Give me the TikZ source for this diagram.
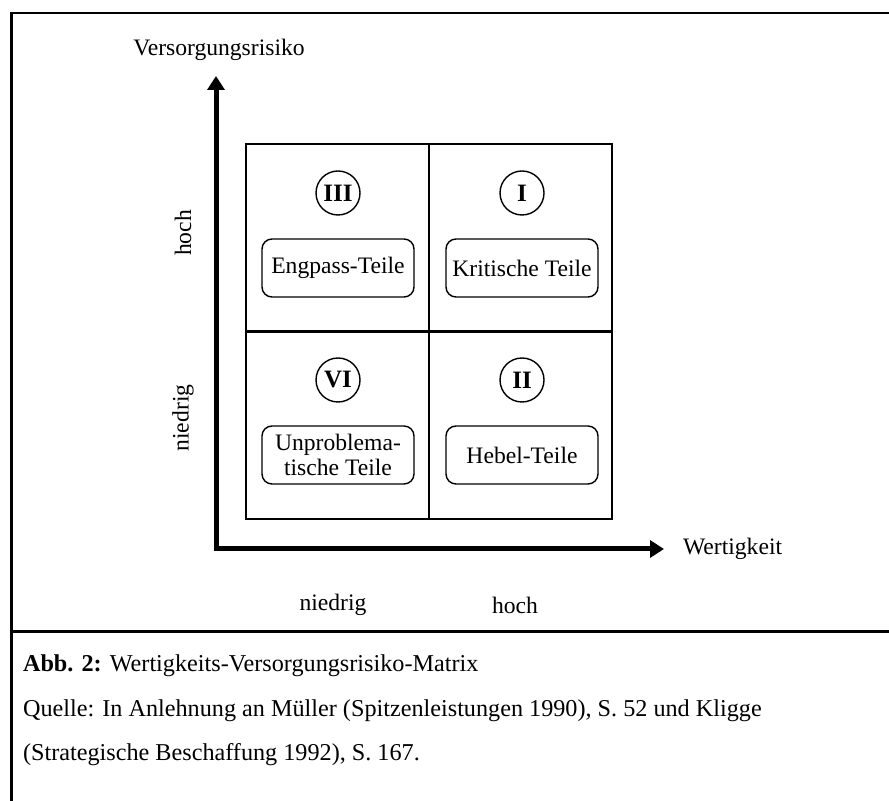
\documentclass[tikz,border=0pt]{standalone}
\usepackage{fontspec}
\setmainfont{Liberation Serif}
\usetikzlibrary{arrows.meta}

\begin{document}
\begin{tikzpicture}[
    x=0.5pt, y=-0.5pt,
    every node/.style={font=\fontsize{11.8pt}{12.5pt}\selectfont},
    caption/.style={anchor=west, font=\fontsize{12.1pt}{14pt}\selectfont},
    frame/.style={line width=1.3pt},
    quadrant/.style={draw, line width=1pt, minimum width=91.5pt, minimum height=94pt, inner sep=0pt},
    roman/.style={circle, draw, line width=0.7pt, minimum size=22pt, inner sep=0pt,
        font=\fontsize{12.5pt}{12.5pt}\selectfont\bfseries},
    part/.style={draw, rounded corners=5pt, line width=0.7pt, minimum width=76pt,
        minimum height=29pt, align=center, inner sep=1pt},
    axis/.style={line width=2.5pt, line cap=rect, -{Triangle[length=7pt,width=8.5pt]}}
]
    \useasboundingbox (0,0) rectangle (889,801);

    % Frame
    \draw[frame] (889,13) -- (11.5,13) -- (11.5,801);
    \draw[frame] (11.5,631.5) -- (889,631.5);

    % Quadrants
    \node[quadrant] (q3) at (337.5,238) {};
    \node[quadrant] (q1) at (520,238) {};
    \node[quadrant] (q6) at (337.5,425.5) {};
    \node[quadrant] (q2) at (520,425.5) {};

    % Nodes
    \node[roman] (r3) at (338,193) {III};
    \node[roman] (r1) at (522,193) {I};
    \node[roman] (r6) at (338,380) {VI};
    \node[roman] (r2) at (522,380) {II};

    \node[part] (engpass) at (338,268) {Engpass-Teile};
    \node[part] (kritisch) at (522,268) {Kritische Teile};
    \node[part] (unprob) at (338,455) {Unproblema-\\tische Teile};
    \node[part] (hebel) at (522,455) {Hebel-Teile};

    % Axes
    \coordinate (origin) at (216,549);
    \coordinate (ytip) at (216,76);
    \coordinate (xtip) at (664,549);
    \draw[axis] (origin) -- (ytip);
    \draw[axis] (origin) -- (xtip);

    \node (ylabel) at (219,50) {Versorgungsrisiko};
    \node[anchor=west] (xlabel) at (676,549) {Wertigkeit};
    \node (xlow) at (333,605) {niedrig};
    \node (xhigh) at (515,605) {hoch};
    \node[rotate=90] (yhigh) at (183,233) {hoch};
    \node[rotate=90] (ylow) at (183,418) {niedrig};

    % Caption
    \node[caption] (cap1) at (16,666) {\textbf{Abb. 2:} Wertigkeits-Versorgungsrisiko-Matrix};
    \node[caption] (cap2) at (16,711) {Quelle: In Anlehnung an Müller (Spitzenleistungen 1990), S. 52 und Kligge};
    \node[caption] (cap3) at (16,755) {(Strategische Beschaffung 1992), S. 167.};
\end{tikzpicture}
\end{document}
